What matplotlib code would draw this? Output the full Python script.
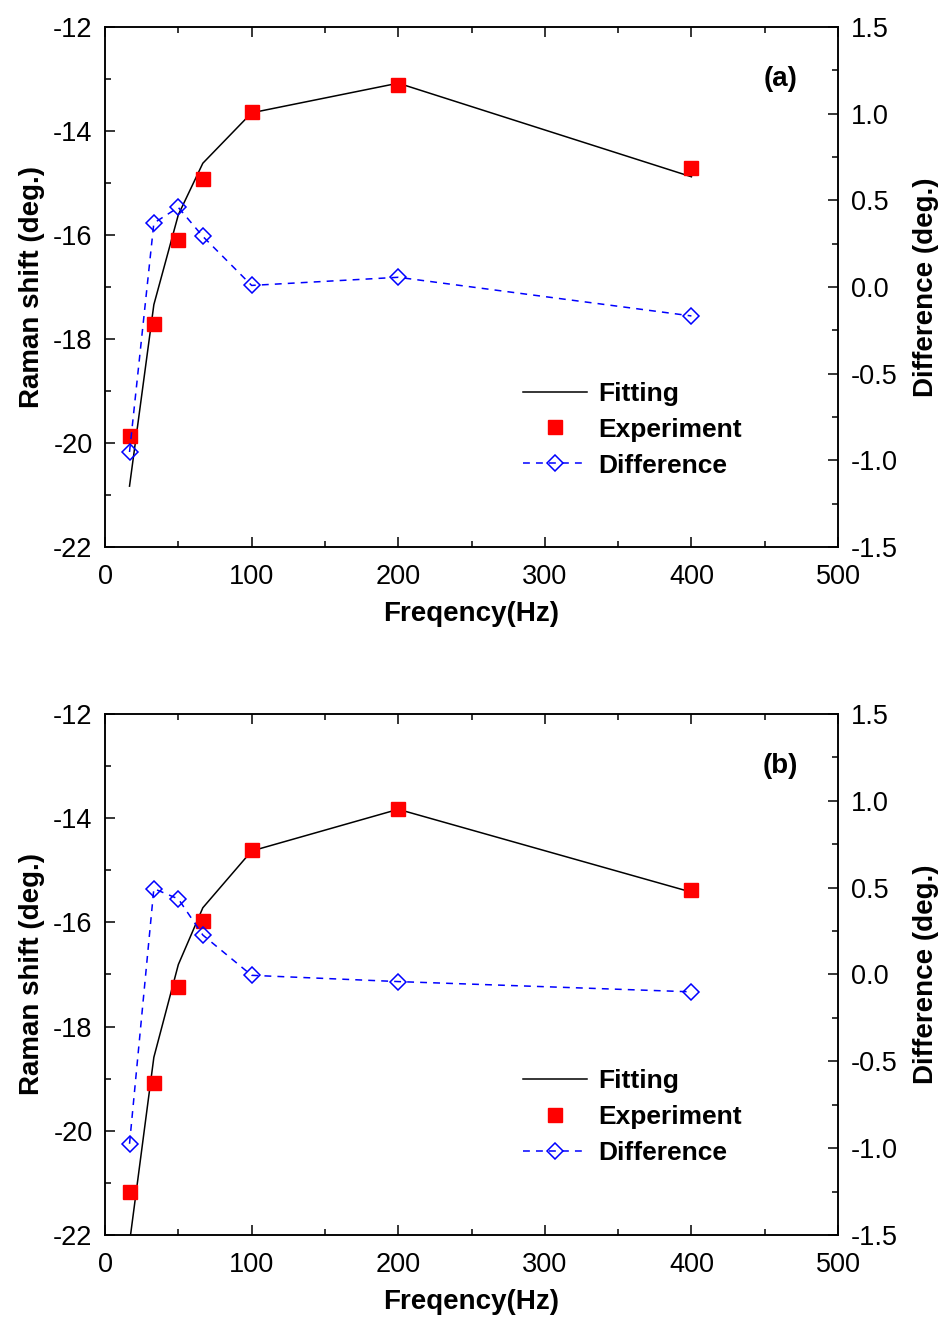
import numpy as np
import matplotlib
matplotlib.use("Agg")
import matplotlib.pyplot as plt
from matplotlib.ticker import MultipleLocator, FormatStrFormatter

plt.rcParams['font.family'] = ['Liberation Sans', 'DejaVu Sans']
plt.rcParams['axes.unicode_minus'] = False

# frequencies (Hz)
freq = [16.7, 33.3, 50, 66.7, 100, 200, 400]

# panel (a)
fit_a = [-20.83, -17.34, -15.61, -14.62, -13.65, -13.08, -14.88]
exp_a = [-19.87, -17.71, -16.10, -14.92, -13.63, -13.12, -14.71]
diff_a = [-0.952, 0.369, 0.459, 0.292, 0.009, 0.056, -0.167]

# panel (b)
fit_b = [-22.15, -18.59, -16.81, -15.72, -14.63, -13.83, -15.42]
exp_b = [-21.17, -19.09, -17.24, -15.97, -14.62, -13.82, -15.37]
diff_b = [-0.975, 0.494, 0.435, 0.227, -0.005, -0.041, -0.10]

panels = [("(a)", fit_a, exp_a, diff_a), ("(b)", fit_b, exp_b, diff_b)]
boxes = [[0.1108, 0.585, 0.7732, 0.3945], [0.1108, 0.063, 0.7732, 0.3953]]

fig = plt.figure(figsize=(9.48, 13.18), dpi=100)

for (tag, fit, exp, diff), box in zip(panels, boxes):
    ax = fig.add_axes(box)
    ax2 = ax.twinx()

    l1, = ax.plot(freq, fit, color='black', lw=1.1)
    l2, = ax.plot(freq, exp, ls='none', marker='s', ms=9.5, color='red')
    l3, = ax2.plot(freq, diff, color='blue', lw=1.1, ls=(0, (4.5, 4)),
                   marker='D', ms=8, mfc='none', mec='blue', mew=1.1)

    ax.set_xlim(0, 500)
    ax.set_ylim(-22, -12)
    ax2.set_ylim(-1.5, 1.5)

    ax.xaxis.set_major_locator(MultipleLocator(100))
    ax.xaxis.set_minor_locator(MultipleLocator(50))
    ax.yaxis.set_major_locator(MultipleLocator(2))
    ax.yaxis.set_minor_locator(MultipleLocator(1))
    ax2.yaxis.set_major_locator(MultipleLocator(0.5))
    ax2.yaxis.set_minor_locator(MultipleLocator(0.25))
    ax2.yaxis.set_major_formatter(FormatStrFormatter('%.1f'))

    for a in (ax, ax2):
        a.tick_params(which='major', direction='in', length=7, width=1.1, labelsize=19.5, pad=9)
        a.tick_params(which='minor', direction='in', length=4, width=1.1)
        for s in a.spines.values():
            s.set_linewidth(1.1)
    ax.tick_params(axis='x', which='both', top=True, labeltop=False)
    ax.tick_params(axis='x', which='major', pad=12)

    ax.set_xlabel('Freqency(Hz)', fontsize=20, fontweight='bold', labelpad=8)
    ax.set_ylabel('Raman shift (deg.)', fontsize=20, fontweight='bold', labelpad=6)
    ax2.set_ylabel('Difference (deg.)', fontsize=20, fontweight='bold', labelpad=11)

    ax.text(0.921, 0.90, tag, transform=ax.transAxes, fontsize=20,
            fontweight='bold', ha='center', va='center')

    leg = ax2.legend([l1, l2, l3], ['Fitting', 'Experiment', 'Difference'],
                     loc='upper left', bbox_to_anchor=(0.552, 0.343), frameon=False,
                     borderpad=0, handlelength=2.45, handletextpad=0.4,
                     labelspacing=0.45, prop={'weight': 'bold', 'size': 19})

fig.savefig('out.png', dpi=100)
